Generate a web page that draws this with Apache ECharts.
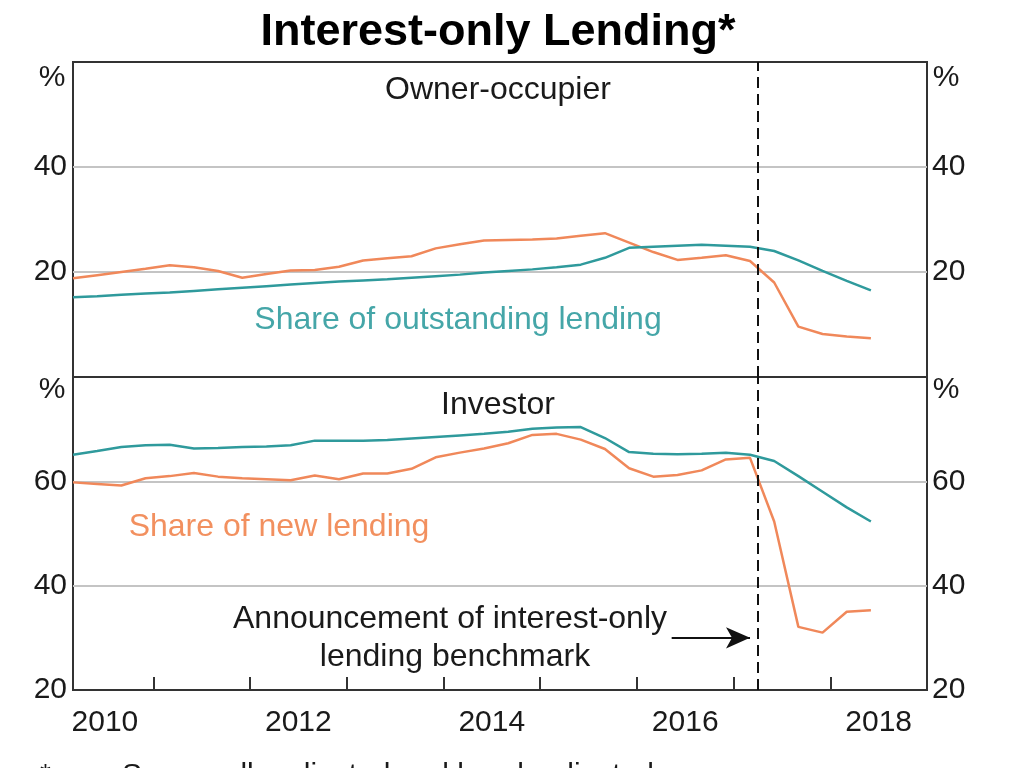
<!DOCTYPE html>
<html><head><meta charset="utf-8">
<script src="https://cdn.jsdelivr.net/npm/echarts@6/dist/echarts.min.js"></script>
<style>html,body{margin:0;padding:0;background:#fff}#c{width:1024px;height:768px}</style>
</head><body><div id="c"></div>
<script>
// Quarterly observation dates (decimal years)
const dates = [2010.17,2010.42,2010.67,2010.92,2011.17,2011.42,2011.67,2011.92,2012.17,2012.42,2012.67,2012.92,
  2013.17,2013.42,2013.67,2013.92,2014.17,2014.42,2014.67,2014.92,2015.17,2015.42,2015.67,2015.92,
  2016.17,2016.42,2016.67,2016.92,2017.17,2017.42,2017.67,2017.92,2018.17,2018.42];
// Owner-occupier, share of new lending (%)
const ownerNew = [18.8,19.4,20.0,20.6,21.3,20.9,20.2,18.9,19.6,20.3,20.4,21.0,
  22.2,22.6,23.0,24.5,25.3,26.0,26.1,26.2,26.4,26.9,27.4,25.6,
  23.8,22.3,22.7,23.2,22.1,18.0,9.6,8.2,7.7,7.4];
// Owner-occupier, share of outstanding lending (%)
const ownerOutstanding = [15.2,15.4,15.65,15.9,16.1,16.4,16.7,17.0,17.3,17.6,17.9,18.2,
  18.4,18.6,18.9,19.2,19.5,19.9,20.2,20.5,20.9,21.4,22.7,24.6,
  24.8,25.0,25.2,25.0,24.8,24.0,22.2,20.2,18.3,16.5];
// Investor, share of new lending (%)
const investorNew = [59.8,59.5,59.2,60.6,61.0,61.6,60.9,60.6,60.4,60.2,61.1,60.4,
  61.5,61.5,62.4,64.6,65.5,66.3,67.3,68.9,69.1,68.0,66.2,62.5,
  60.9,61.2,62.1,64.2,64.5,52.3,32.1,31.0,35.0,35.3];
// Investor, share of outstanding lending (%)
const investorOutstanding = [65.1,65.8,66.6,66.9,67.0,66.3,66.4,66.6,66.7,66.9,67.8,67.8,
  67.8,67.9,68.2,68.5,68.8,69.1,69.5,70.1,70.3,70.4,68.3,65.6,
  65.3,65.2,65.3,65.5,65.1,63.9,61.0,58.0,55.0,52.3];
const yearLabels = [2010,2012,2014,2016,2018];
const yearTicks = [2011,2012,2013,2014,2015,2016,2017,2018];
const announcement = 2017.25;
const arrowFrom = [2016.36, 30.0];
const arrowTo = [2017.17, 30.0];

const TEAL = '#2f9a9c', ORANGE = '#f0885a';
const TEAL_TXT = '#45a6a8', ORANGE_TXT = '#f2905f';
const FONT = "'Liberation Sans', Arial, sans-serif";
const pair = (v) => v.map((y, i) => [dates[i], y]);

const chart = echarts.init(document.getElementById('c'), null, {renderer: 'canvas'});
const xMin = 2010.17, xMax = 2019;

function yAx(grid, pos, min, max, hidden, split) {
  return {
    type: 'value', gridIndex: grid, position: pos, min: min, max: max, interval: 20,
    axisLine: {show: false}, axisTick: {show: false},
    axisLabel: {
      fontSize: 30, fontFamily: FONT, color: '#1a1a1a', margin: pos === 'left' ? 6 : 5,
      formatter: (v) => hidden.indexOf(v) >= 0 ? '' : String(v)
    },
    splitLine: split ? {show: true, showMinLine: false, showMaxLine: false,
      lineStyle: {color: '#c4c4c4', width: 2}} : {show: false}
  };
}

const option = {
  animation: false,
  backgroundColor: '#fff',
  grid: [
    {left: 73, right: 97, top: 62, height: 315, show: true, borderColor: '#333', borderWidth: 2, backgroundColor: 'transparent'},
    {left: 73, right: 97, top: 377, height: 313, show: true, borderColor: '#333', borderWidth: 2, backgroundColor: 'transparent'}
  ],
  xAxis: [
    {type: 'value', gridIndex: 0, min: xMin, max: xMax, axisLine: {show: false}, axisTick: {show: false},
      axisLabel: {show: false}, splitLine: {show: false}},
    {type: 'value', gridIndex: 1, min: xMin, max: xMax,
      axisLine: {show: true, lineStyle: {color: '#333', width: 2}},
      axisTick: {show: true, inside: true, length: 13, customValues: yearTicks, lineStyle: {color: '#333', width: 2}},
      axisLabel: {show: true, customValues: yearLabels.map(y => y + 0.5), formatter: (v) => String(Math.floor(v)),
        fontSize: 30, fontFamily: FONT, color: '#1a1a1a', margin: 18},
      splitLine: {show: false}}
  ],
  yAxis: [
    yAx(0, 'left', 0, 60, [0, 60], true), yAx(0, 'right', 0, 60, [0, 60], false),
    yAx(1, 'left', 20, 80, [80], true), yAx(1, 'right', 20, 80, [80], false)
  ],
  series: [
    {type: 'line', name: 'Owner new', xAxisIndex: 0, yAxisIndex: 0, data: pair(ownerNew), showSymbol: false,
      lineStyle: {color: ORANGE, width: 2.5}, itemStyle: {color: ORANGE}, z: 3},
    {type: 'line', name: 'Owner outstanding', xAxisIndex: 0, yAxisIndex: 0, data: pair(ownerOutstanding), showSymbol: false,
      lineStyle: {color: TEAL, width: 2.5}, itemStyle: {color: TEAL}, z: 3,
      markLine: {silent: true, symbol: 'none', label: {show: false},
        lineStyle: {type: [11, 6], color: '#111', width: 2}, data: [{xAxis: announcement}]}},
    {type: 'line', name: 'Investor new', xAxisIndex: 1, yAxisIndex: 2, data: pair(investorNew), showSymbol: false,
      lineStyle: {color: ORANGE, width: 2.5}, itemStyle: {color: ORANGE}, z: 3,
      markLine: {silent: true, symbol: ['none', 'arrow'], symbolSize: [16, 24], label: {show: false},
        lineStyle: {type: 'solid', color: '#111', width: 2},
        data: [[{coord: arrowFrom}, {coord: arrowTo}]]}},
    {type: 'line', name: 'Investor outstanding', xAxisIndex: 1, yAxisIndex: 2, data: pair(investorOutstanding), showSymbol: false,
      lineStyle: {color: TEAL, width: 2.5}, itemStyle: {color: TEAL}, z: 3,
      markLine: {silent: true, symbol: 'none', label: {show: false},
        lineStyle: {type: [11, 6], color: '#111', width: 2}, data: [{xAxis: announcement}]}}
  ],
  graphic: [
    mk('Interest-only Lending*', 498, 33, 45, '#000', 'bold'),
    mk('Owner-occupier', 498, 90, 32, '#1a1a1a'),
    mk('Share of outstanding lending', 458, 320, 32, TEAL_TXT),
    mk('Investor', 498, 405, 32, '#1a1a1a'),
    mk('Share of new lending', 279, 527, 32, ORANGE_TXT),
    mk('Announcement of interest-only', 450, 619, 32, '#1a1a1a'),
    mk('lending benchmark', 455, 657, 32, '#1a1a1a'),
    mk('%', 52, 78, 30, '#1a1a1a'),
    mk('%', 946, 78, 30, '#1a1a1a'),
    mk('%', 52, 390, 30, '#1a1a1a'),
    mk('%', 946, 390, 30, '#1a1a1a'),
    {type: 'text', left: 40, top: 761, silent: true, style: {text: '*', fontSize: 28, fontFamily: FONT, fill: '#1a1a1a'}},
    {type: 'text', left: 122, top: 761, silent: true, style: {text: 'Seasonally adjusted and break adjusted', fontSize: 30, fontFamily: FONT, fill: '#1a1a1a'}}
  ]
};

function mk(text, x, y, size, color, weight) {
  return {type: 'text', x: x, y: y, silent: true,
    style: {text: text, fontSize: size, fontFamily: FONT, fontWeight: weight || 'normal', fill: color,
      align: 'center', verticalAlign: 'middle', textAlign: 'center', textVerticalAlign: 'middle'}};
}

chart.setOption(option);
</script>
</body></html>
